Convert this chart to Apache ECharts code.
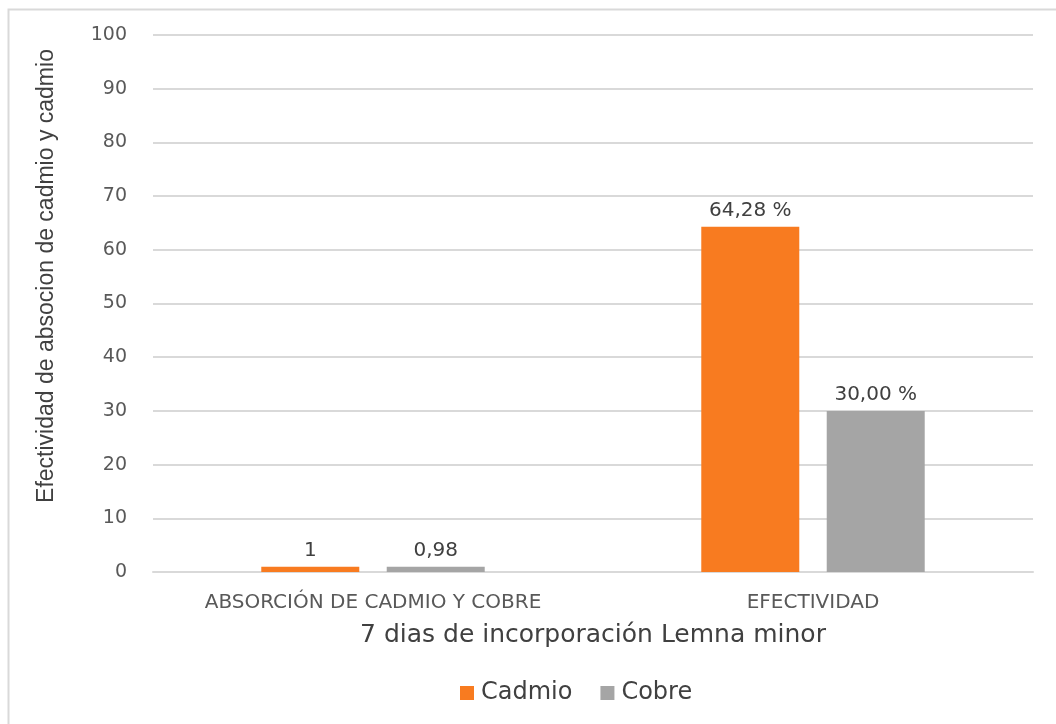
<!DOCTYPE html>
<html>
<head>
<meta charset="utf-8">
<script src="https://cdn.jsdelivr.net/npm/echarts@6/dist/echarts.min.js"></script>
<style>
  html, body { margin: 0; padding: 0; background: #fff; }
  #main { width: 1056px; height: 724px; }
</style>
</head>
<body>
<div id="main"></div>
<script>
// datos del grafico
const categories = ['ABSORCIÓN DE CADMIO Y COBRE', 'EFECTIVIDAD']
const cadmio = [1, 64.28]
const cobre = [0.98, 30.00]
const cadmioLabels = ['1', '64,28 %']
const cobreLabels = ['0,98', '30,00 %']

const myChart = echarts.init(document.getElementById('main'))

const labelFont = 'DejaVu Sans'

myChart.setOption({
  backgroundColor: '#fff',
  animation: false,
  graphic: [{
    type: 'rect',
    left: 6,
    top: 7,
    shape: { width: 1060, height: 730 },
    style: { fill: 'none', stroke: '#d9d9d9', lineWidth: 2 },
    silent: true
  }],
  grid: {
    left: 153,
    right: 23,
    top: 35,
    bottom: 152
  },
  legend: {
    left: 455,
    top: 676,
    itemWidth: 14,
    itemHeight: 14,
    itemGap: 28,
    icon: 'rect',
    textStyle: { fontFamily: labelFont, fontSize: 24, color: '#404040', padding: [0, 0, 0, 2] },
    data: ['Cadmio', 'Cobre']
  },
  xAxis: {
    type: 'category',
    data: categories,
    name: '7 dias de incorporación Lemna minor',
    nameLocation: 'middle',
    nameGap: 51,
    nameTextStyle: { fontFamily: labelFont, fontSize: 25, color: '#404040' },
    axisTick: { show: false },
    axisLine: { lineStyle: { color: '#d9d9d9', width: 2 } },
    axisLabel: {
      margin: 21,
      fontFamily: labelFont,
      fontSize: 20,
      color: '#595959'
    }
  },
  yAxis: {
    type: 'value',
    min: 0,
    max: 100,
    interval: 10,
    name: 'Efectividad de absocion de cadmio y cadmio',
    nameLocation: 'middle',
    nameGap: 95,
    nameRotate: 90,
    nameTextStyle: {
      fontFamily: 'Liberation Sans',
      fontSize: 23,
      color: '#404040',
      padding: [0, 0, 0, 55]
    },
    axisLine: { show: false },
    axisTick: { show: false },
    splitLine: { lineStyle: { color: '#d9d9d9', width: 2 } },
    axisLabel: {
      margin: 26,
      fontFamily: labelFont,
      fontSize: 19,
      color: '#595959'
    }
  },
  series: [
    {
      name: 'Cadmio',
      type: 'bar',
      data: cadmio,
      barWidth: 98,
      barGap: '28%',
      itemStyle: { color: '#f87b20' },
      label: {
        show: true,
        position: 'top',
        distance: 6,
        fontFamily: labelFont,
        fontSize: 20,
        color: '#404040',
        formatter: (p) => cadmioLabels[p.dataIndex]
      }
    },
    {
      name: 'Cobre',
      type: 'bar',
      data: cobre,
      barWidth: 98,
      itemStyle: { color: '#a5a5a5' },
      label: {
        show: true,
        position: 'top',
        distance: 6,
        fontFamily: labelFont,
        fontSize: 20,
        color: '#404040',
        formatter: (p) => cobreLabels[p.dataIndex]
      }
    }
  ]
})
</script>
</body>
</html>
